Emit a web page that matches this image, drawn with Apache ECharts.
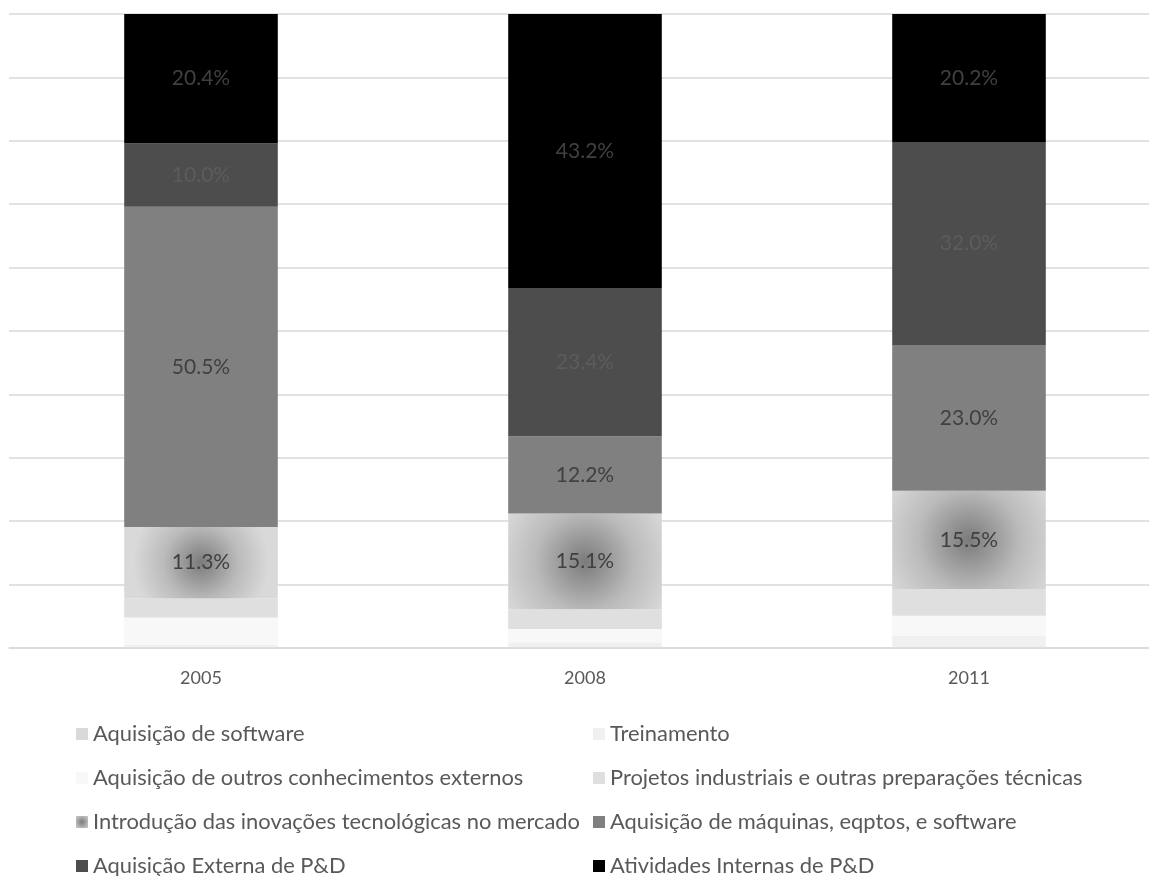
<!DOCTYPE html>
<html>
<head>
<meta charset="utf-8">
<title>Distribuição dos gastos em atividades inovativas</title>
<script src="https://cdn.jsdelivr.net/npm/echarts@6/dist/echarts.min.js"></script>
<style>
  html, body { margin: 0; padding: 0; background: #ffffff; overflow: hidden; }
  /* the plot area runs a little past the right edge of the window */
  #chart { width: 1161px; height: 876px; }
</style>
</head>
<body>
<div id="chart"></div>
<script>
// Anos pesquisados
const categories = ['2005', '2008', '2011'];

// Participação (%) de cada atividade no total, por ano
const aquisicaoSoftware    = [0.1, 0.1, 0.1];
const treinamento          = [0.4, 0.8, 1.8];
const outrosConhecimentos  = [4.3, 2.1, 3.2];
const projetosIndustriais  = [3.0, 3.1, 4.2];
const introducaoMercado    = [11.3, 15.1, 15.5];
const maquinasEquipamentos = [50.5, 12.2, 23.0];
const externaPD            = [10.0, 23.4, 32.0];
const internasPD           = [20.4, 43.2, 20.2];

const seriesNames = [
  'Aquisição de software',
  'Treinamento',
  'Aquisição de outros conhecimentos externos',
  'Projetos industriais e outras preparações técnicas',
  'Introdução das inovações tecnológicas no mercado',
  'Aquisição de máquinas, eqptos, e software',
  'Aquisição Externa de P&D',
  'Atividades Internas de P&D'
];

const FONT = 'Lato, "Open Sans", sans-serif';

const radial = new echarts.graphic.RadialGradient(0.5, 0.5, 0.95, [
  { offset: 0, color: '#7b7b7b' },
  { offset: 0.55, color: '#bbbbbb' },
  { offset: 1, color: '#d9d9d9' }
]);

function bar(name, data, color, labelColor) {
  const s = {
    name: name,
    type: 'bar',
    stack: 'total',
    barWidth: '40%',
    data: data,
    itemStyle: { color: color },
    emphasis: { disabled: true },
    label: { show: false }
  };
  if (labelColor) {
    s.label = {
      show: true,
      position: 'inside',
      color: labelColor,
      fontFamily: FONT,
      fontSize: 21,
      formatter: p => p.value.toFixed(1) + '%'
    };
  }
  return s;
}

const series = [
  bar(seriesNames[0], aquisicaoSoftware, '#d9d9d9'),
  bar(seriesNames[1], treinamento, '#f0f0f0'),
  bar(seriesNames[2], outrosConhecimentos, '#f8f8f8'),
  bar(seriesNames[3], projetosIndustriais, '#dfdfdf'),
  bar(seriesNames[4], introducaoMercado, radial, '#404040'),
  bar(seriesNames[5], maquinasEquipamentos, '#808080', '#404040'),
  bar(seriesNames[6], externaPD, '#4d4d4d', '#5c5c5c'),
  bar(seriesNames[7], internasPD, '#000000', '#404040')
];

const legendText = { color: '#595959', fontFamily: FONT, fontSize: 21.9, lineHeight: 24 };

function legendColumn(left, names) {
  return {
    orient: 'vertical',
    left: left,
    top: 722,
    height: 220,
    padding: 0,
    itemWidth: 12,
    itemHeight: 12,
    itemGap: 20,
    icon: 'rect',
    selectedMode: false,
    textStyle: legendText,
    data: names
  };
}

const option = {
  backgroundColor: '#ffffff',
  animation: false,
  grid: { left: 9, top: 14, right: 0, bottom: 228, containLabel: false },
  xAxis: {
    type: 'category',
    data: categories,
    axisTick: { show: false },
    axisLine: { lineStyle: { color: '#d9d9d9', width: 1.5 } },
    axisLabel: { color: '#595959', fontFamily: FONT, fontSize: 18, margin: 21 }
  },
  yAxis: {
    type: 'value',
    min: 0,
    max: 100,
    interval: 10,
    axisLabel: { show: false },
    axisLine: { show: false },
    axisTick: { show: false },
    splitLine: { lineStyle: { color: '#d9d9d9', width: 1.5 } }
  },
  legend: [
    legendColumn(76, [seriesNames[0], seriesNames[2], seriesNames[4], seriesNames[6]]),
    legendColumn(593, [seriesNames[1], seriesNames[3], seriesNames[5], seriesNames[7]])
  ],
  series: series
};

const chart = echarts.init(document.getElementById('chart'), null, { renderer: 'canvas' });
chart.setOption(option);
</script>
</body>
</html>
